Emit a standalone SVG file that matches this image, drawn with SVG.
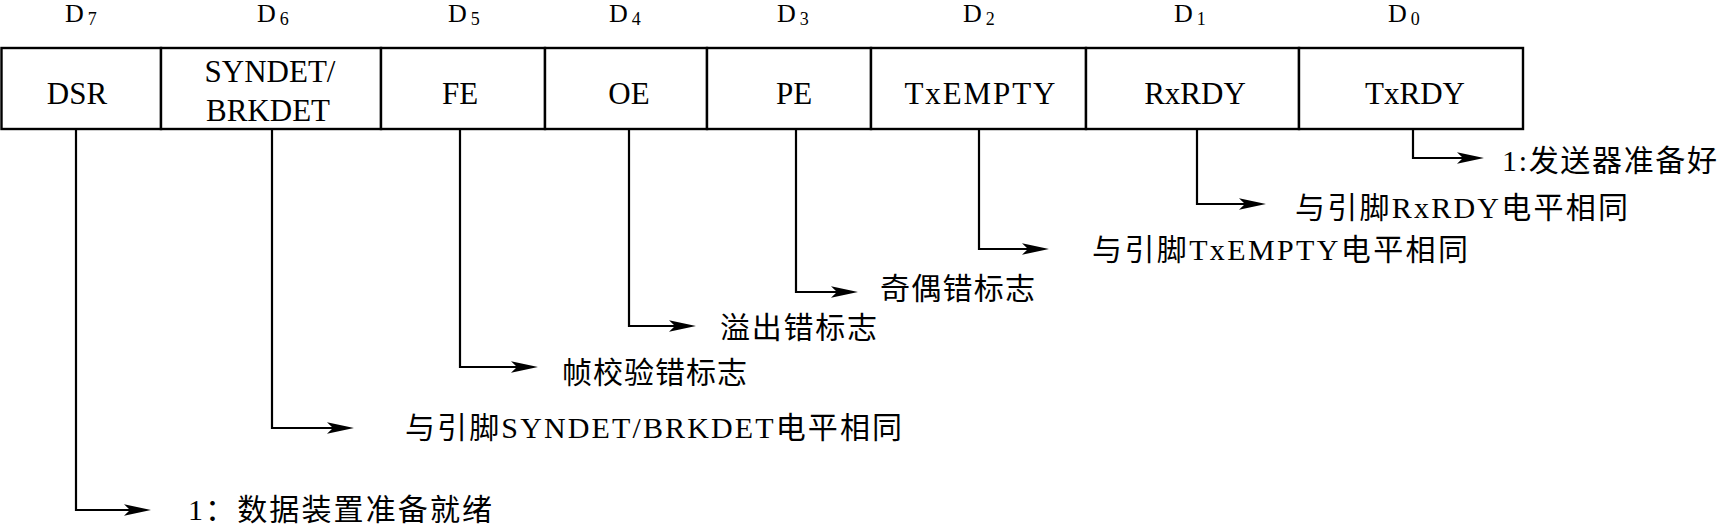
<svg xmlns="http://www.w3.org/2000/svg" width="1720" height="524" viewBox="0 0 1720 524">
<style>
.cell{fill:#fff;stroke:#000;stroke-width:2.4}
.bl{font-family:"Liberation Serif","Noto Sans CJK SC",serif;font-size:31px;fill:#000;text-anchor:middle}
.dl{font-family:"Liberation Serif",serif;font-size:26px;fill:#000}
.sub{font-size:18px}
.an{font-family:"Liberation Serif","Noto Sans CJK SC",serif;font-size:30px;fill:#000}
.cn{fill:none;stroke:#000;stroke-width:2.2}
</style>
<defs>
<marker id="arr" markerWidth="30" markerHeight="14" refX="14" refY="7" orient="auto" markerUnits="userSpaceOnUse">
<path d="M0,1.2 L27,7 L0,12.8 L6,7 Z" fill="#000"/>
</marker>
</defs>
<rect width="1720" height="524" fill="#fff"/>
<g id="bit7"><rect class="cell" x="1.5" y="48" width="159.5" height="81"/><text class="dl" x="65" y="22">D<tspan class="sub" dx="4" dy="3">7</tspan></text><text class="bl" x="77" y="104">DSR</text></g>
<g id="bit6"><rect class="cell" x="161" y="48" width="220" height="81"/><text class="dl" x="257" y="22">D<tspan class="sub" dx="4" dy="3">6</tspan></text><text class="bl" x="270" y="82">SYNDET/</text><text class="bl" x="268" y="121">BRKDET</text></g>
<g id="bit5"><rect class="cell" x="381" y="48" width="164" height="81"/><text class="dl" x="448" y="22">D<tspan class="sub" dx="4" dy="3">5</tspan></text><text class="bl" x="460" y="104">FE</text></g>
<g id="bit4"><rect class="cell" x="545" y="48" width="162" height="81"/><text class="dl" x="609" y="22">D<tspan class="sub" dx="4" dy="3">4</tspan></text><text class="bl" x="629" y="104">OE</text></g>
<g id="bit3"><rect class="cell" x="707" y="48" width="164" height="81"/><text class="dl" x="777" y="22">D<tspan class="sub" dx="4" dy="3">3</tspan></text><text class="bl" x="794" y="104">PE</text></g>
<g id="bit2"><rect class="cell" x="871" y="48" width="215" height="81"/><text class="dl" x="963" y="22">D<tspan class="sub" dx="4" dy="3">2</tspan></text><text class="bl" x="980" y="104" textLength="151" lengthAdjust="spacing">TxEMPTY</text></g>
<g id="bit1"><rect class="cell" x="1086" y="48" width="213" height="81"/><text class="dl" x="1174" y="22">D<tspan class="sub" dx="4" dy="3">1</tspan></text><text class="bl" x="1195" y="104">RxRDY</text></g>
<g id="bit0"><rect class="cell" x="1299" y="48" width="224" height="81"/><text class="dl" x="1388" y="22">D<tspan class="sub" dx="4" dy="3">0</tspan></text><text class="bl" x="1415" y="104">TxRDY</text></g>
<g id="connectors">
<path class="cn" d="M76,129 V510 H138" marker-end="url(#arr)"/>
<path class="cn" d="M272,129 V428 H341" marker-end="url(#arr)"/>
<path class="cn" d="M460,129 V367 H525" marker-end="url(#arr)"/>
<path class="cn" d="M629,129 V326 H683" marker-end="url(#arr)"/>
<path class="cn" d="M796,129 V292 H845" marker-end="url(#arr)"/>
<path class="cn" d="M979,129 V249 H1036" marker-end="url(#arr)"/>
<path class="cn" d="M1197,129 V204 H1253" marker-end="url(#arr)"/>
<path class="cn" d="M1413,129 V158 H1471" marker-end="url(#arr)"/>
</g>
<g id="note7"><text class="an" x="188" y="520" textLength="304" lengthAdjust="spacing">1：数据装置准备就绪</text></g>
<g id="note6"><text class="an" x="405" y="438" textLength="497" lengthAdjust="spacing">与引脚SYNDET/BRKDET电平相同</text></g>
<g id="note5"><text class="an" x="562" y="383" textLength="185" lengthAdjust="spacing">帧校验错标志</text></g>
<g id="note4"><text class="an" x="720" y="338" textLength="157" lengthAdjust="spacing">溢出错标志</text></g>
<g id="note3"><text class="an" x="880" y="299" textLength="155" lengthAdjust="spacing">奇偶错标志</text></g>
<g id="note2"><text class="an" x="1092" y="260" textLength="376" lengthAdjust="spacing">与引脚TxEMPTY电平相同</text></g>
<g id="note1"><text class="an" x="1295" y="218" textLength="333" lengthAdjust="spacing">与引脚RxRDY电平相同</text></g>
<g id="note0"><text class="an" x="1502" y="171" textLength="215" lengthAdjust="spacing">1:发送器准备好</text></g>
</svg>
